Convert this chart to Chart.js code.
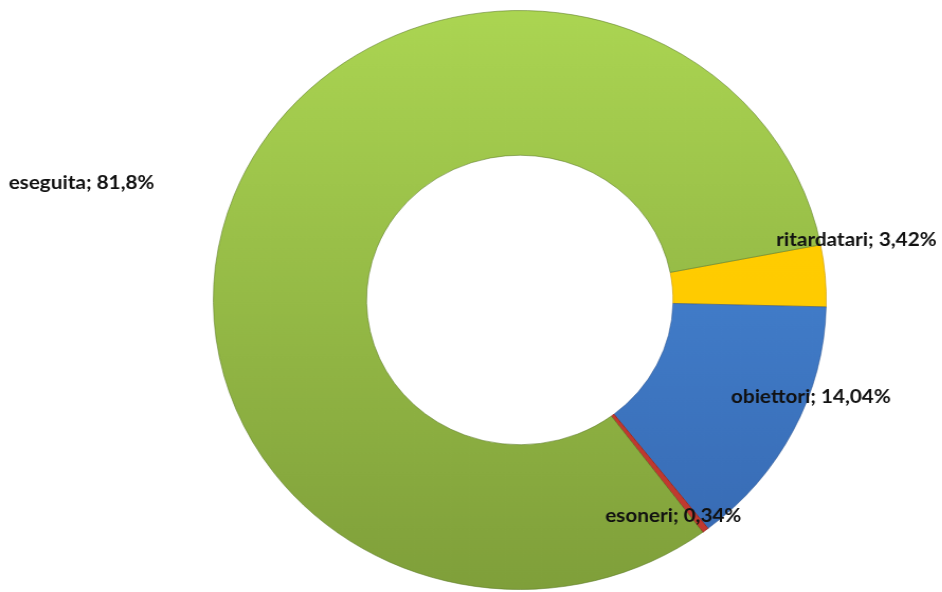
<!DOCTYPE html>
<html>
<head>
<meta charset="utf-8">
<script src="https://cdn.jsdelivr.net/npm/chart.js@4"></script>
<style>
  html, body { margin: 0; padding: 0; background: #fff; overflow: hidden; }
  #wrap { width: 890px; height: 592px; transform: scaleX(1.0586); transform-origin: 0 0; }
</style>
</head>
<body>
<div id="wrap"><canvas id="donut" width="890" height="592"></canvas></div>
<script>
const categories = ['ritardatari', 'obiettori', 'esoneri', 'eseguita'];
const values = [3.42, 14.04, 0.34, 81.8];
const valueLabels = ['3,42%', '14,04%', '0,34%', '81,8%'];

// label offsets from the doughnut centre (x = text centre, y = baseline)
const labelOffsets = [[318, -54], [275, 103], [145, 222], [-414, -111]];

function vGrad(ctx, area, top, bottom) {
  const g = ctx.createLinearGradient(0, area.top, 0, area.bottom);
  g.addColorStop(0, top);
  g.addColorStop(1, bottom);
  return g;
}

const sliceLabels = {
  id: 'sliceLabels',
  afterDatasetsDraw(chart) {
    const arc = chart.getDatasetMeta(0).data[0];
    const cx = arc.x, cy = arc.y;
    const ctx = chart.ctx;
    const k = 1.087;
    ctx.save();
    ctx.scale(k, 1);
    ctx.font = 'bold 18px Lato, "Liberation Sans", sans-serif';
    ctx.fillStyle = '#111';
    ctx.textAlign = 'center';
    ctx.textBaseline = 'alphabetic';
    categories.forEach((c, i) => {
      ctx.fillText(c + '; ' + valueLabels[i], (cx + labelOffsets[i][0]) / k, cy + labelOffsets[i][1]);
    });
    ctx.restore();
  }
};

new Chart(document.getElementById('donut'), {
  type: 'doughnut',
  data: {
    labels: categories,
    datasets: [{
      data: values,
      backgroundColor(context) {
        const chart = context.chart;
        const area = chart.chartArea;
        if (!area) return '#9bc547';
        const c = chart.ctx;
        switch (context.dataIndex) {
          case 0: return vGrad(c, area, '#ffd200', '#ffc400');
          case 1: return vGrad(c, area, '#4b8fe0', '#3668b0');
          case 2: return '#c0392f';
          default: return vGrad(c, area, '#abd552', '#7f9f3a');
        }
      },
      borderColor: ['rgba(200,150,0,0.6)', 'rgba(40,80,140,0.5)', '#a02a22', 'rgba(90,120,35,0.55)'],
      borderWidth: 1
    }]
  },
  options: {
    responsive: false,
    animation: false,
    rotation: 79,
    cutout: '50%',
    layout: { padding: { left: 201, right: 109, top: 10, bottom: 2 } },
    plugins: {
      legend: { display: false },
      tooltip: { enabled: false }
    }
  },
  plugins: [sliceLabels]
});
</script>
</body>
</html>
